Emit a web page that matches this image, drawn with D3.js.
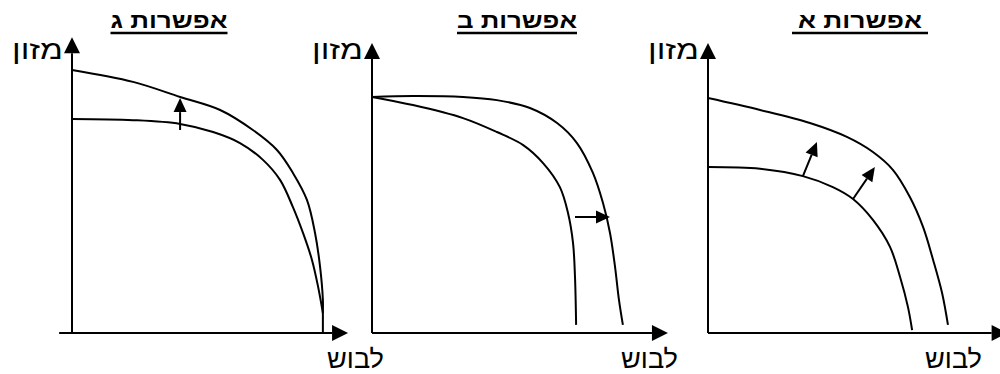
<!DOCTYPE html>
<html>
<head>
<meta charset="utf-8">
<script src="https://cdn.jsdelivr.net/npm/d3@7"></script>
<style>
    body { margin: 0; background: #fff; }
    text { font-family: 'Liberation Sans', 'DejaVu Sans', sans-serif; fill: #000; }
</style>
</head>
<body>
<div class="visContainer"></div>
<script>
// panel titles, right to left in the original: א, ב, ג
const titles = ['אפשרות ג', 'אפשרות ב', 'אפשרות א'];
const yLabel = 'מזון';
const xLabel = 'לבוש';

// curves in chart units (x = clothing, y = food)
const gOld = [[0, 73.8], [21.8, 73.4], [38.6, 72.1], [50.4, 69.3], [60, 65.5], [68.2, 59.7], [74.3, 52.8],
              [78.9, 43.4], [82.5, 34.5], [85.7, 25.2], [87.9, 15.9], [89.6, 6.9]];
const gNew = [[0, 90.7], [21.8, 86.6], [38.6, 81.4], [52.9, 76.9], [64.6, 70], [73.2, 63.1], [78.9, 55.2],
              [83.9, 45.9], [86.8, 34.5], [88.6, 22.8], [89.6, 11.4], [89.6, 6.9], [89.6, 0.3]];
const bOld = [[0, 81.4], [14.6, 78.6], [32.5, 74.1], [44.6, 69.3], [54, 64.8], [61.1, 58.6], [67.1, 50.3],
              [70, 41.4], [71.8, 31], [72.5, 19.3], [72.9, 2.8]];
const bNew = [[0, 81.4], [14.6, 81.7], [32.5, 81.4], [44.6, 80.3], [56.4, 77.6], [66.1, 72.4], [73.2, 65.5],
              [78.9, 55.2], [82.5, 44.8], [85, 34.5], [86.8, 22.8], [88.2, 11.4], [89.6, 2.8]];
const aOld = [[0, 57.2], [18.6, 56.6], [33.9, 54.1], [44.6, 50.3], [51.8, 46.2], [58.9, 39], [65, 29.7],
              [68.6, 19.3], [71.4, 9], [72.9, 1]];
const aNew = [[0, 81], [18.6, 76.9], [36.4, 72.4], [49.6, 67.6], [58.9, 62.4], [66.1, 56.2], [72.1, 46.9],
              [76.8, 36.6], [80.4, 25.2], [83.6, 13.8], [85.7, 2.8]];

// shift arrows: [from, to]
const gShift = [[[38.6, 70], [38.6, 81]]];
const bShift = [[[72.5, 40], [85, 40]]];
const aShift = [[[33.9, 54.1], [38.9, 65.9]], [[51.8, 46.2], [59.6, 57.2]]];

const panels = [
    { title: titles[0], curves: [gOld, gNew], shifts: gShift, ox: 72, xStart: -4.6, xEnd: 98.6, yEnd: 102,
      titleX: 169, titleW: 117, labelX: 327 },
    { title: titles[1], curves: [bOld, bNew], shifts: bShift, ox: 372, xStart: 0, xEnd: 105.7, yEnd: 100,
      titleX: 517, titleW: 120, labelX: 621 },
    { title: titles[2], curves: [aOld, aNew], shifts: aShift, ox: 708, xStart: 0, xEnd: 107, yEnd: 100,
      titleX: 860, titleW: 124, labelX: 925, pad: 6 }
];

const width = 1000;
const height = 374;
const originY = 333;

const svg = d3.select('.visContainer')
              .append('svg')
              .attr('width', width)
              .attr('height', height)
              .attr('direction', 'ltr');

const line = d3.line().curve(d3.curveCatmullRom.alpha(0.5));

function arrowHead(g, x1, y1, x2, y2, len, half) {
    const a = Math.atan2(y2 - y1, x2 - x1);
    const bx = x2 - len * Math.cos(a);
    const by = y2 - len * Math.sin(a);
    const px = -Math.sin(a) * half;
    const py = Math.cos(a) * half;
    g.append('path')
     .attr('d', `M${x2},${y2}L${bx + px},${by + py}L${bx - px},${by - py}Z`)
     .attr('fill', '#000');
    return [bx, by];
}

panels.forEach((p) => {
    const xScale = d3.scaleLinear().domain([0, 100]).range([p.ox, p.ox + 280]);
    const yScale = d3.scaleLinear().domain([0, 100]).range([originY, originY - 290]);
    const g = svg.append('g');

    // axes with arrow heads
    const xb = arrowHead(g, xScale(p.xStart), originY, xScale(p.xEnd), originY, 16, 8);
    g.append('line')
     .attr('x1', xScale(p.xStart)).attr('y1', originY)
     .attr('x2', xb[0]).attr('y2', originY)
     .attr('stroke', '#000').attr('stroke-width', 2);
    const yb = arrowHead(g, p.ox, originY, p.ox, yScale(p.yEnd), 16, 8);
    g.append('line')
     .attr('x1', p.ox).attr('y1', originY)
     .attr('x2', p.ox).attr('y2', yb[1])
     .attr('stroke', '#000').attr('stroke-width', 2);

    g.selectAll('path.curve')
     .data(p.curves)
     .enter()
     .append('path')
     .attr('class', 'curve')
     .attr('d', (d) => line(d.map((c) => [xScale(c[0]), yScale(c[1])])))
     .attr('fill', 'none')
     .attr('stroke', '#000')
     .attr('stroke-width', 2);

    p.shifts.forEach((s) => {
        const x1 = xScale(s[0][0]), y1 = yScale(s[0][1]);
        const x2 = xScale(s[1][0]), y2 = yScale(s[1][1]);
        const b = arrowHead(g, x1, y1, x2, y2, 14, 6.5);
        g.append('line')
         .attr('x1', x1).attr('y1', y1)
         .attr('x2', b[0]).attr('y2', b[1])
         .attr('stroke', '#000').attr('stroke-width', 2);
    });

    // labels
    g.append('text')
     .attr('x', p.ox - 60)
     .attr('y', 59)
     .attr('textLength', 51)
     .attr('lengthAdjust', 'spacingAndGlyphs')
     .style('font-size', '26px')
     .text(yLabel);
    g.append('text')
     .attr('x', p.labelX)
     .attr('y', 368)
     .attr('textLength', 57)
     .attr('lengthAdjust', 'spacingAndGlyphs')
     .style('font-size', '26px')
     .text(xLabel);

    g.append('text')
     .attr('x', p.titleX - p.titleW / 2)
     .attr('y', 28)
     .attr('textLength', p.titleW)
     .attr('lengthAdjust', 'spacingAndGlyphs')
     .style('font-size', '22px')
     .style('font-weight', 'bold')
     .text(p.title);
    const pad = p.pad || 0;
    g.append('line')
     .attr('x1', p.titleX - p.titleW / 2 - pad).attr('x2', p.titleX + p.titleW / 2 + pad)
     .attr('y1', 33).attr('y2', 33)
     .attr('stroke', '#000').attr('stroke-width', 2.5);
});
</script>
</body>
</html>
